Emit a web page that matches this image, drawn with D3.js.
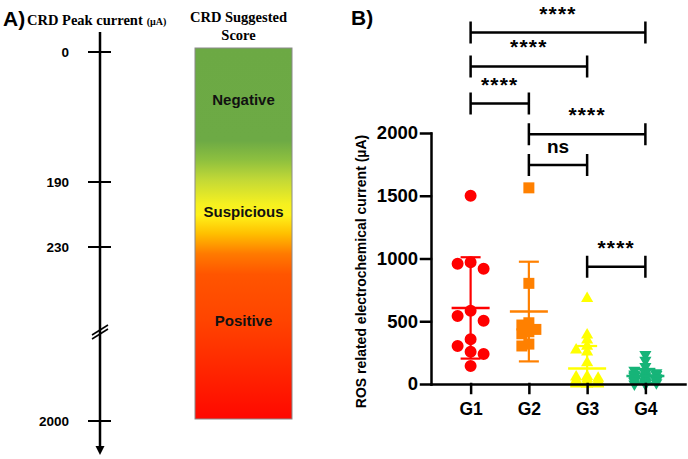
<!DOCTYPE html>
<html><head><meta charset="utf-8">
<script src="https://cdn.jsdelivr.net/npm/d3@7"></script>
<style>body{margin:0;background:#fff;} svg{display:block;}</style>
</head><body>
<svg id="c" width="688" height="459"></svg>
<script>
// ---------- data ----------
const scoreTicks = [0, 190, 230, 2000];
const scoreZones = ["Negative", "Suspicious", "Positive"];
const zoneLabelAt = [70, 208, 980];
const groups = ["G1", "G2", "G3", "G4"];
const g1 = [1500, 971, 958, 918, 584, 541, 504, 356, 303, 257, 239, 143];
const g2 = [1563, 802, 488, 470, 435, 416, 400, 318, 303];
const g3 = [682, 390, 350, 300, 270, 255, 170, 60, 55, 45, 40, 30, 25, 20, 15, 10, 5, 5, 0, 0, 0, 0];
const g4 = [235, 190, 140, 110, 95, 90, 85, 80, 75, 70, 65, 60, 55, 50, 45, 40, 35, 30, 28, 25, 20, 15, 10, 5, 0, 0];
const yTicks = [0, 500, 1000, 1500, 2000];
const compFrom = ["G1", "G1", "G1", "G2", "G2", "G3"];
const compTo   = ["G4", "G3", "G2", "G4", "G3", "G4"];
const compSig  = ["****", "****", "****", "****", "ns", "****"];
const compLevel = [2800, 2530, 2235, 1990, 1745, 935];

// ---------- styles ----------
const colors = ["#FF0000", "#FF8000", "#FFFF00", "#16B478"];
const symTypes = [d3.symbolCircle, d3.symbolSquare, d3.symbolTriangle, d3.symbolTriangle];
const symSizes = [113, 121, 64, 64];
const symRot = [0, 0, 0, 180];
const swarmCfg = [
  {cw: 12, ch: 12, step: 13, maxK: 1},
  {cw: 7, ch: 7, step: 7, maxK: 2},
  {cw: 9, ch: 5, step: 5.5, maxK: 2},
  {cw: 9, ch: 5, step: 5.5, maxK: 2}
];
const FONT = "'Liberation Sans', Arial, sans-serif";
const SERIF = "'Liberation Serif', 'Times New Roman', serif";

const svg = d3.select("#c");

// ================= Panel A =================
svg.append("text").attr("x", 3).attr("y", 26).attr("font-family", FONT)
  .attr("font-weight", "bold").attr("font-size", 21).text("A)");
const t1 = svg.append("text").attr("x", 27).attr("y", 25).attr("font-family", SERIF)
  .attr("font-weight", "bold").attr("font-size", 14.5);
t1.append("tspan").text("CRD Peak current");
t1.append("tspan").attr("font-size", 10).attr("dx", 4).text("(µA)");
svg.append("text").attr("x", 238.5).attr("y", 21.5).attr("text-anchor", "middle")
  .attr("font-family", SERIF).attr("font-weight", "bold").attr("font-size", 14.5).text("CRD Suggested");
svg.append("text").attr("x", 238.5).attr("y", 39.5).attr("text-anchor", "middle")
  .attr("font-family", SERIF).attr("font-weight", "bold").attr("font-size", 14.5).text("Score");

const lScale = d3.scaleLinear().domain(scoreTicks).range([52, 182, 247, 421]);
const axX = 100;
svg.append("line").attr("x1", axX).attr("x2", axX).attr("y1", 32).attr("y2", 448)
  .attr("stroke", "#000").attr("stroke-width", 2.5);
svg.append("path").attr("d", `M${axX-4.5},446 L${axX+4.5},446 L${axX},455 Z`).attr("fill", "#000");
scoreTicks.forEach(t => {
  const y = lScale(t);
  svg.append("line").attr("x1", axX - 12).attr("x2", axX + 11).attr("y1", y).attr("y2", y)
    .attr("stroke", "#000").attr("stroke-width", 2);
  svg.append("text").attr("x", 69).attr("y", y).attr("dy", "0.35em").attr("text-anchor", "end")
    .attr("font-family", FONT).attr("font-weight", "bold").attr("font-size", 13.5).text(t);
});
// axis break
const brY = (lScale(230) + lScale(2000)) / 2 - 2;
[-2, 2].forEach(o => {
  svg.append("line").attr("x1", axX - 8).attr("y1", brY + o + 5).attr("x2", axX + 8).attr("y2", brY + o - 5)
    .attr("stroke", "#000").attr("stroke-width", 1.5);
});

// colour bar
const defs = svg.append("defs");
const grad = defs.append("linearGradient").attr("id", "gr").attr("x1", 0).attr("x2", 0).attr("y1", 0).attr("y2", 1);
[[0, "#6CA944"], [0.25, "#6DAA45"], [0.30, "#8CBF3F"], [0.356, "#C3D936"], [0.42, "#F5F020"],
 [0.45, "#FFF21A"], [0.50, "#FFC000"], [0.555, "#FF7A00"], [0.61, "#FF5500"], [0.73, "#FF4500"], [1, "#FF0800"]]
  .forEach(s => grad.append("stop").attr("offset", s[0]).attr("stop-color", s[1]));
svg.append("rect").attr("x", 195).attr("y", 48).attr("width", 97).attr("height", 371)
  .attr("fill", "url(#gr)").attr("stroke", "#8a8a8a").attr("stroke-width", 1);
scoreZones.forEach((z, i) => {
  svg.append("text").attr("x", 243.5).attr("y", lScale(zoneLabelAt[i])).attr("dy", "0.35em")
    .attr("text-anchor", "middle").attr("font-family", FONT).attr("font-weight", "bold")
    .attr("font-size", 15).attr("fill", "#111").text(z);
});

// ================= Panel B =================
svg.append("text").attr("x", 351).attr("y", 25).attr("font-family", FONT)
  .attr("font-weight", "bold").attr("font-size", 21).text("B)");

const yR = d3.scaleLinear().domain([0, 2000]).range([384, 133]);
const xR = d3.scalePoint().domain(groups).range([431, 685]).padding(0.68);
const x0 = 431;

// data points (beeswarm)
function swarm(vals, cfg) {
  const pts = vals.map(v => ({v, py: yR(v)})).sort((a, b) => b.v - a.v);
  const slots = [0];
  for (let k = 1; k <= cfg.maxK; k++) { slots.push(-k * cfg.step, k * cfg.step); }
  const placed = [];
  pts.forEach(p => {
    let best = null, bestC = Infinity;
    for (const s of slots) {
      let c = 0;
      placed.forEach(q => { if (Math.abs(q.dx - s) < cfg.cw - 0.01 && Math.abs(q.py - p.py) < cfg.ch - 0.01) c++; });
      if (c < bestC) { bestC = c; best = s; }
      if (c === 0) break;
    }
    p.dx = best; placed.push(p);
  });
  return placed;
}
const allData = [g1, g2, g3, g4];
allData.forEach((vals, gi) => {
  const cx = xR(groups[gi]);
  const pts = swarm(vals, swarmCfg[gi]);
  const sym = d3.symbol().type(symTypes[gi]).size(symSizes[gi]);
  svg.append("g").selectAll("path").data(pts).join("path")
    .attr("d", sym)
    .attr("transform", d => `translate(${cx + d.dx},${d.py}) rotate(${symRot[gi]})`)
    .attr("fill", colors[gi]);
  // mean & SD
  const m = d3.mean(vals), sd = d3.deviation(vals);
  const top = m + sd, bot = Math.max(0, m - sd);
  const g = svg.append("g").attr("stroke", colors[gi]).attr("stroke-width", 2.2);
  g.append("line").attr("x1", cx).attr("x2", cx).attr("y1", yR(top)).attr("y2", yR(bot));
  g.append("line").attr("x1", cx - 19).attr("x2", cx + 19).attr("y1", yR(m)).attr("y2", yR(m)).attr("stroke-width", 2.6);
  g.append("line").attr("x1", cx - 10).attr("x2", cx + 10).attr("y1", yR(top)).attr("y2", yR(top));
  if (m - sd > 0) g.append("line").attr("x1", cx - 10).attr("x2", cx + 10).attr("y1", yR(bot)).attr("y2", yR(bot));
});

// axes
const yAxis = svg.append("g").attr("transform", `translate(${x0},0)`)
  .call(d3.axisLeft(yR).tickValues(yTicks).tickFormat(d3.format("d")).tickSize(10).tickPadding(3).tickSizeOuter(0));
const xAxis = svg.append("g").attr("transform", `translate(0,${yR(0)})`)
  .call(d3.axisBottom(xR).tickSize(9).tickPadding(10).tickSizeOuter(0));
[yAxis, xAxis].forEach(a => {
  a.selectAll("path,line").attr("stroke", "#000").attr("stroke-width", 2.5).attr("stroke-linecap", "square");
  a.selectAll("text").attr("font-family", FONT).attr("font-weight", "bold").attr("fill", "#000");
});
yAxis.selectAll("text").attr("font-size", 18.5);
xAxis.selectAll("text").attr("font-size", 17.5);

svg.append("text").attr("transform", "translate(361,271.5) rotate(-90)")
  .attr("text-anchor", "middle").attr("dy", "0.35em").attr("font-family", FONT)
  .attr("font-weight", "bold").attr("font-size", 14).text("ROS related electrochemical current (µA)");

// significance brackets
compFrom.forEach((a, i) => {
  const xa = xR(a), xb = xR(compTo[i]), y = yR(compLevel[i]);
  svg.append("path").attr("d", `M${xa},${y - 11}V${y + 11}M${xa},${y}H${xb}M${xb},${y - 11}V${y + 11}`)
    .attr("fill", "none").attr("stroke", "#000").attr("stroke-width", 2.5);
  svg.append("text").attr("x", (xa + xb) / 2).attr("y", y - 12).attr("text-anchor", "middle")
    .attr("font-family", FONT).attr("font-weight", "bold")
    .attr("font-size", compSig[i] === "ns" ? 19 : 21)
    .attr("letter-spacing", compSig[i] === "ns" ? 0 : 1.2)
    .text(compSig[i]);
});
</script>
</body></html>
